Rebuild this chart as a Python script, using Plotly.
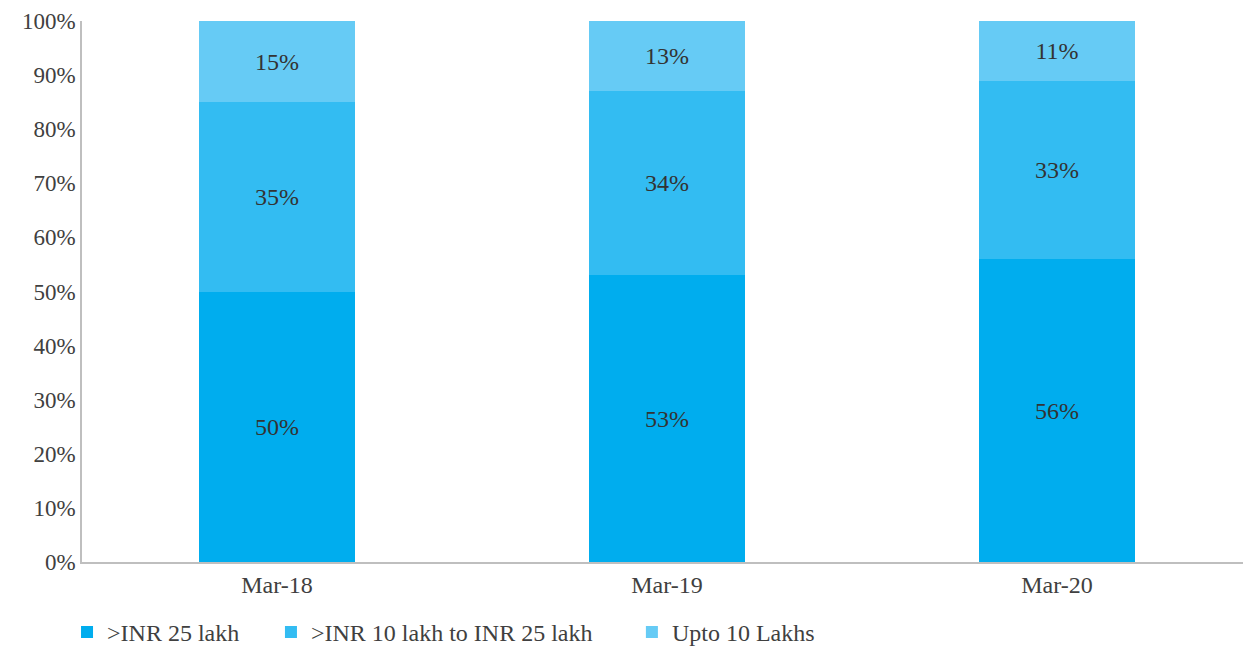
import plotly.graph_objects as go

categories = ["Mar-18", "Mar-19", "Mar-20"]
above_25 = [50, 53, 56]
mid_10_25 = [35, 34, 33]
upto_10 = [15, 13, 11]
series_names = [">INR 25 lakh", ">INR 10 lakh to INR 25 lakh", "Upto 10 Lakhs"]
colors = ["#00ADEE", "#33BCF2", "#66CBF5"]
y_ticks = list(range(0, 101, 10))

FONT = "Liberation Serif"
TXT = "#404040"

legend_refs = ["legend", "legend2", "legend3"]
legend_x = [-0.0128, 0.1615, 0.470]

fig = go.Figure()
for name, vals, col, lg in zip(series_names, [above_25, mid_10_25, upto_10], colors, legend_refs):
    fig.add_trace(go.Bar(
        x=categories, y=vals, name=name,
        marker=dict(color=col, line=dict(width=0)),
        text=[f"{v}%" for v in vals],
        textposition="inside", insidetextanchor="middle",
        textfont=dict(family=FONT, size=24, color="#333333"),
        width=0.4,
        legend=lg,
    ))

leg_common = dict(orientation="h", xanchor="left", y=-0.13, yanchor="middle",
                  font=dict(family=FONT, size=24, color=TXT), itemwidth=30,
                  bgcolor="rgba(0,0,0,0)")

fig.update_layout(
    barmode="stack",
    width=1251, height=654,
    margin=dict(l=74, r=7, t=13, b=97),
    paper_bgcolor="white", plot_bgcolor="white",
    font=dict(family=FONT, size=24, color=TXT),
    showlegend=True,
    legend=dict(x=legend_x[0], **leg_common),
    legend2=dict(x=legend_x[1], **leg_common),
    legend3=dict(x=legend_x[2], **leg_common),
)
fig.update_xaxes(showline=True, linecolor="#BFBFBF", linewidth=1.5, ticks="",
                 showgrid=False, automargin=False, ticklabeloverflow="allow",
                 tickfont=dict(family=FONT, size=24, color=TXT))
fig.update_yaxes(range=[0, 100], tickvals=y_ticks, ticktext=[f"{t}%" for t in y_ticks],
                 showline=True, linecolor="#BFBFBF", linewidth=1.5, ticks="",
                 showgrid=False, zeroline=False, automargin=False,
                 ticklabeloverflow="allow",
                 tickfont=dict(family=FONT, size=23, color=TXT))

fig.write_html("out.html")
